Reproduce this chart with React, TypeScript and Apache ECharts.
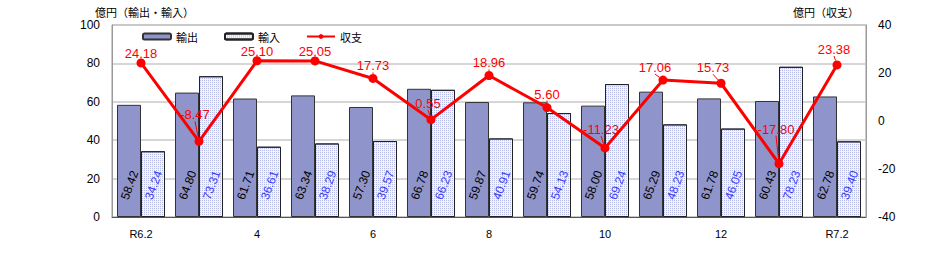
import React, { useEffect, useRef } from "react";
import * as echarts from "echarts";

const months = ["R6.2", "3", "4", "5", "6", "7", "8", "9", "10", "11", "12", "R7.1", "R7.2"];
const exportValues = [58.42, 64.8, 61.71, 63.34, 57.3, 66.78, 59.87, 59.74, 58.0, 65.29, 61.78, 60.43, 62.78];
const importValues = [34.24, 73.31, 36.61, 38.29, 39.57, 66.23, 40.91, 54.13, 69.24, 48.23, 46.05, 78.23, 39.4];
const balanceValues = [24.18, -8.47, 25.1, 25.05, 17.73, 0.55, 18.96, 5.6, -11.23, 17.06, 15.73, -17.8, 23.38];

const leftAxis = { min: 0, max: 100, interval: 20 };
const rightAxis = { min: -40, max: 40, interval: 20 };

const leftTitle = "億円（輸出・輸入）";
const rightTitle = "億円（収支）";
const seriesNames = ["輸出", "輸入", "収支"];

// label nudges (layout only)
const balanceLabelShift: Record<number, [number, number]> = {
  1: [-4, -17],
  4: [0, -3],
  5: [-3, -7],
  6: [0, -3],
  7: [0, -4],
  8: [-4, -9],
  9: [-8, -3],
  10: [-8, -6],
  11: [-3, -25],
  12: [-3, -6],
};

export default function App() {
  const ref = useRef<HTMLDivElement>(null);
  useEffect(() => {
    if (!ref.current) return;
    const chart = echarts.init(ref.current, null, { renderer: "svg" });
    const fmt = (p: any) => Number(p.value).toFixed(2);
    const font = "Liberation Sans";
    chart.setOption({
      animation: false,
      backgroundColor: "#ffffff",
      textStyle: { fontFamily: font },
      grid: {
        left: 112,
        right: 66,
        top: 25,
        bottom: 37,
        show: true,
        borderColor: "#999999",
        borderWidth: 1,
        containLabel: false,
      },
      graphic: [
        {
          type: "text",
          left: 95,
          top: 6,
          style: { text: leftTitle, fontSize: 11, fill: "#000", fontFamily: "Noto Sans CJK JP" },
        },
        {
          type: "text",
          left: 793,
          top: 6,
          style: { text: rightTitle, fontSize: 11, fill: "#000", fontFamily: "Noto Sans CJK JP" },
        },
      ],
      legend: {
        data: seriesNames,
        left: 137,
        top: 26,
        itemWidth: 28,
        itemHeight: 6,
        itemGap: 26,
        textStyle: { fontSize: 11, color: "#000", fontFamily: "Noto Sans CJK JP" },
      },
      xAxis: {
        type: "category",
        data: months,
        axisTick: { show: false },
        axisLine: { lineStyle: { color: "#555555", width: 1 } },
        axisLabel: { interval: 1, fontSize: 11, color: "#000", margin: 11, fontFamily: font },
      },
      yAxis: [
        {
          type: "value",
          min: leftAxis.min,
          max: leftAxis.max,
          interval: leftAxis.interval,
          axisLine: { show: true, lineStyle: { color: "#999999" } },
          axisTick: { show: false },
          axisLabel: { fontSize: 12, color: "#000", margin: 12, fontFamily: font },
          splitLine: { lineStyle: { color: "#c8c8c8", width: 1.5 } },
        },
        {
          type: "value",
          min: rightAxis.min,
          max: rightAxis.max,
          interval: rightAxis.interval,
          axisLine: { show: true, lineStyle: { color: "#999999" } },
          axisTick: { show: false },
          axisLabel: { fontSize: 12, color: "#000", margin: 12, fontFamily: font },
          splitLine: { show: false },
        },
      ],
      series: [
        {
          name: seriesNames[0],
          type: "bar",
          data: exportValues,
          barWidth: 24,
          barGap: "0%",
          itemStyle: { color: "#8f95cb", borderColor: "#333333", borderWidth: 1 },
          label: {
            show: true,
            position: "insideBottom",
            distance: 30,
            rotate: 70,
            align: "center",
            verticalAlign: "middle",
            offset: [2, 0],
            formatter: fmt,
            fontSize: 12,
            color: "#000",
            fontFamily: font,
          },
        },
        {
          name: seriesNames[1],
          type: "bar",
          data: importValues,
          barWidth: 24,
          barGap: "0%",
          itemStyle: {
            color: "#f3f4fb",
            borderColor: "#222222",
            borderWidth: 1,
            decal: {
              symbol: "rect",
              symbolSize: 1,
              color: "rgba(110,120,210,0.45)",
              dashArrayX: [1, 1],
              dashArrayY: [1, 1],
              rotation: 0,
            },
          },
          label: {
            show: true,
            position: "insideBottom",
            distance: 30,
            rotate: 70,
            align: "center",
            verticalAlign: "middle",
            offset: [2, 0],
            formatter: fmt,
            fontSize: 12,
            color: "#3b3bff",
            fontFamily: font,
          },
        },
        {
          name: seriesNames[2],
          type: "line",
          yAxisIndex: 1,
          data: balanceValues,
          z: 5,
          symbol: "circle",
          symbolSize: 9,
          itemStyle: { color: "#ff0000" },
          lineStyle: { color: "#ff0000", width: 3 },
          label: {
            show: true,
            position: "top",
            distance: 0,
            formatter: fmt,
            fontSize: 13,
            color: "#ff0000",
            fontFamily: font,
          },
          labelLine: { show: true, lineStyle: { color: "#ff0000", width: 1 } },
          labelLayout: (params: any) => {
            const s = balanceLabelShift[params.dataIndex] || [0, 0];
            return { dx: s[0], dy: s[1] + 1.5 };
          },
        },
      ],
    });
    return () => chart.dispose();
  }, []);
  return (
    <div
      ref={ref}
      style={{ width: 932, height: 254, position: "fixed", left: 0, top: 0 }}
    />
  );
}
